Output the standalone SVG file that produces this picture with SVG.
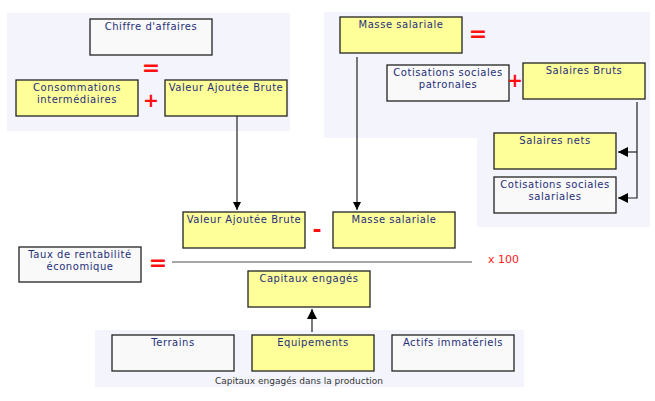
<svg xmlns="http://www.w3.org/2000/svg" width="655" height="401" viewBox="0 0 655 401">
<style>
.panel{fill:#f4f5fc;stroke:none}
.box{stroke:#222;stroke-width:1.3}
.y{fill:#ffff99}
.w{fill:#f9f9f9}
.t{font-family:"DejaVu Sans",Verdana,sans-serif;font-size:10px;fill:#1f2f7a;text-anchor:middle;letter-spacing:0.55px}
.op{font-family:"DejaVu Sans",sans-serif;fill:#ff1010;text-anchor:middle;font-weight:bold}
.cap{font-family:"DejaVu Sans",sans-serif;font-size:9px;fill:#333;text-anchor:middle}
.c{stroke:#222;stroke-width:1.2;fill:none}
</style>
<defs>
<marker id="ah" viewBox="0 0 10 10" refX="10" refY="5" markerWidth="8" markerHeight="8" markerUnits="userSpaceOnUse" orient="auto"><path d="M0,0 L10,5 L0,10 z" fill="#000"/></marker>
<marker id="ah2" viewBox="0 0 10 10" refX="10" refY="5" markerWidth="10" markerHeight="10" markerUnits="userSpaceOnUse" orient="auto"><path d="M0,0 L10,5 L0,10 z" fill="#000"/></marker>
</defs>
<rect width="655" height="401" fill="#fff"/>
<g id="panels">
<rect class="panel" x="7" y="13" width="283" height="118"/>
<rect class="panel" x="324" y="12" width="326" height="126"/>
<rect class="panel" x="477" y="138" width="173" height="89"/>
<rect class="panel" x="95" y="330" width="429" height="57"/>
<text class="cap" x="299" y="384">Capitaux engagés dans la production</text>
</g>
<g id="connectors">
<line class="c" x1="237" y1="116" x2="237" y2="210" marker-end="url(#ah)"/>
<line class="c" x1="357" y1="57" x2="357" y2="210" marker-end="url(#ah)"/>
<polyline class="c" points="637,102 637,198 618,198" marker-end="url(#ah2)"/>
<line class="c" x1="637" y1="152" x2="618" y2="152" marker-end="url(#ah2)"/>
<line class="c" x1="312" y1="332" x2="312" y2="309" marker-end="url(#ah2)"/>
<line x1="172" y1="262" x2="472" y2="262" stroke="#888" stroke-width="1.6"/>
</g>
<g id="ca"><rect class="box w" x="90" y="19" width="122" height="36"/><text class="t" x="151" y="30">Chiffre d'affaires</text></g>
<g id="ci"><rect class="box y" x="16" y="80" width="122" height="36"/><text class="t" x="77" y="91">Consommations</text><text class="t" x="77" y="103">intermédiaires</text></g>
<g id="vab1"><rect class="box y" x="165" y="80" width="122" height="36"/><text class="t" x="226" y="91">Valeur Ajoutée Brute</text></g>
<g id="ms1"><rect class="box y" x="340" y="17" width="122" height="36"/><text class="t" x="401" y="28">Masse salariale</text></g>
<g id="csp"><rect class="box w" x="387" y="65" width="122" height="36"/><text class="t" x="448" y="76">Cotisations sociales</text><text class="t" x="448" y="88">patronales</text></g>
<g id="sb"><rect class="box y" x="523" y="63" width="122" height="36"/><text class="t" x="584" y="74">Salaires Bruts</text></g>
<g id="sn"><rect class="box y" x="494" y="133" width="122" height="36"/><text class="t" x="555" y="144">Salaires nets</text></g>
<g id="css"><rect class="box w" x="494" y="177" width="122" height="36"/><text class="t" x="555" y="188">Cotisations sociales</text><text class="t" x="555" y="200">salariales</text></g>
<g id="vab2"><rect class="box y" x="183" y="212" width="122" height="36"/><text class="t" x="244" y="223">Valeur Ajoutée Brute</text></g>
<g id="ms2"><rect class="box y" x="333" y="212" width="122" height="36"/><text class="t" x="394" y="223">Masse salariale</text></g>
<g id="tre"><rect class="box w" x="19" y="247" width="122" height="35"/><text class="t" x="80" y="258">Taux de rentabilité</text><text class="t" x="80" y="270">économique</text></g>
<g id="ce"><rect class="box y" x="248" y="271" width="122" height="36"/><text class="t" x="309" y="282">Capitaux engagés</text></g>
<g id="ter"><rect class="box w" x="112" y="335" width="122" height="36"/><text class="t" x="173" y="346">Terrains</text></g>
<g id="equ"><rect class="box y" x="252" y="335" width="122" height="36"/><text class="t" x="313" y="346">Equipements</text></g>
<g id="ai"><rect class="box w" x="392" y="335" width="122" height="36"/><text class="t" x="453" y="346">Actifs immatériels</text></g>
<g id="ops">
<text class="op" x="151" y="75" font-size="22">=</text>
<text class="op" x="151" y="107" font-size="19" font-weight="normal">+</text>
<text class="op" x="478" y="41" font-size="22">=</text>
<text class="op" x="515" y="87" font-size="19" font-weight="normal">+</text>
<text class="op" x="317" y="237" font-size="22">-</text>
<text class="op" x="158" y="270" font-size="22">=</text>
<text x="488" y="263" font-family="DejaVu Sans,sans-serif" font-size="11" fill="#ff1a1a">x 100</text>
</g>
</svg>
